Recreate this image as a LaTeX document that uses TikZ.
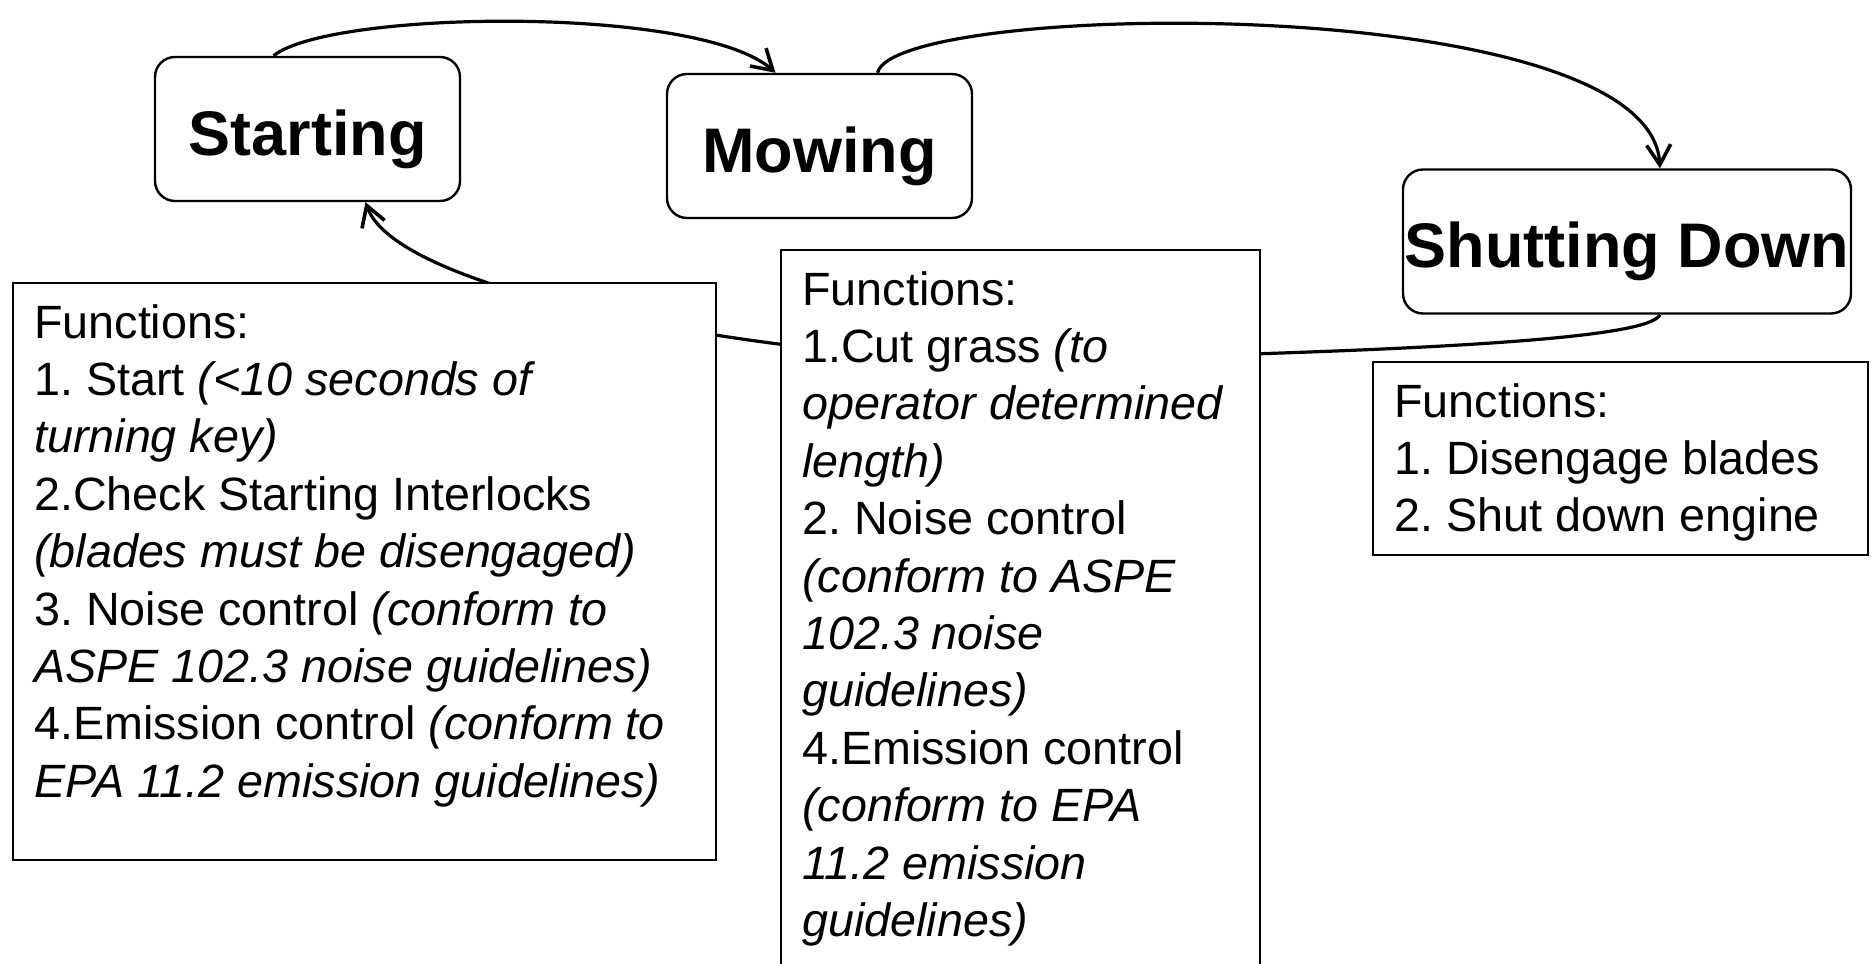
\documentclass[tikz,border=0pt]{standalone}
\usepackage{fontspec}
\setmainfont{Liberation Sans}
\usetikzlibrary{arrows.meta}
\frenchspacing
\newcommand{\fnsize}{\fontsize{23.35pt}{28.7pt}\selectfont}
\begin{document}
\begin{tikzpicture}[x=0.5pt, y=-0.5pt, line width=1.2pt,
		main/.style = {draw, rounded corners=10pt, minimum width=152.5pt, minimum height=72pt, inner sep=0pt, text height=33pt, text depth=6.6pt, font=\fontsize{31.5pt}{38pt}\selectfont\bfseries},
		fn/.style = {draw, fill=white, anchor=north west, inner sep=10.5pt, font=\fnsize},
		arr/.style = {line width=1.6pt, -{Straight Barb[length=10pt,width=12pt,line width=1.8pt]}}]
		\useasboundingbox (0,0) rectangle (1875,964);
		\node[main] (1) at (307.5,129) {Starting};
		\node[main] (2) at (819.5,146) {Mowing};
		\node[main, minimum width=224pt] (3) at (1627,241.5) {Shutting Down};
		
		\draw[arr] ([xshift=16.5pt]3.south) .. controls (1650,335) and (1500,350) .. (1020,360) .. controls (820,364) and (400,300) .. ([xshift=29pt]1.south);
		
		\node[fn] (4) at (12,282) {\parbox[t][267.5pt][t]{330.5pt}{\raggedright
			Functions:\\
			1. Start \textit{(<10 seconds of}\\
			\textit{turning key)}\\
			2.Check Starting Interlocks\\
			\textit{(blades must be disengaged)}\\
			3. Noise control \textit{(conform to}\\
			\textit{ASPE 102.3 noise guidelines)}\\
			4.Emission control \textit{(conform to}\\
			\textit{EPA 11.2 emission guidelines)}}};
		\node[fn] (5) at (780,249) {\parbox[t][349pt][t]{218.5pt}{\raggedright
			Functions:\\
			1.Cut grass \textit{(to}\\
			\textit{operator determined}\\
			\textit{length)}\\
			2. Noise control\\
			\textit{(conform to ASPE}\\
			\textit{102.3 noise}\\
			\textit{guidelines)}\\
			4.Emission control\\
			\textit{(conform to EPA}\\
			\textit{11.2 emission}\\
			\textit{guidelines)}}};
		\node[fn] (6) at (1372,361) {\parbox[t][75.5pt][t]{226.5pt}{\raggedright
			Functions:\\
			1. Disengage blades\\
			2. Shut down engine}};
		
		\draw[arr] ([xshift=-17pt]1.north) .. controls (330,10) and (700,5) .. ([xshift=-22pt]2.north);
		\draw[arr] ([xshift=29pt]2.north) .. controls (895,0) and (1650,-10) .. ([xshift=16.5pt]3.north);
	\end{tikzpicture}
\end{document}
